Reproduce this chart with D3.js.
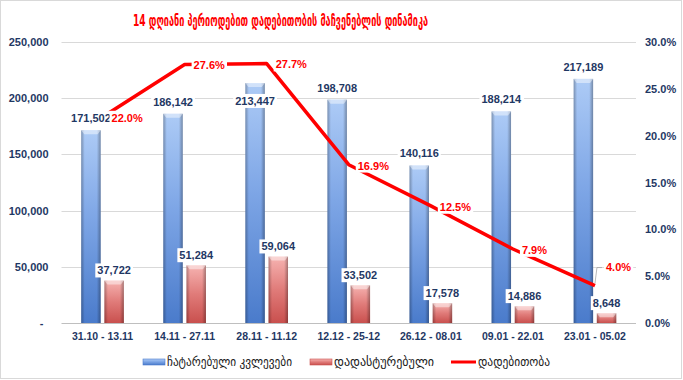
<!DOCTYPE html>
<html>
<head>
<meta charset="utf-8">
<script src="https://cdn.jsdelivr.net/npm/d3@7"></script>
<style>
  body { margin: 0; background: #fff; }
  text { font-family: "Liberation Sans", Arial, sans-serif; }
</style>
</head>
<body>
<svg id="chart" width="683" height="380"></svg>
<script>
// periods (14 days each)
const periods = ["31.10 - 13.11", "14.11 - 27.11", "28.11 - 11.12", "12.12 - 25-12",
                 "26.12 - 08.01", "09.01 - 22.01", "23.01 - 05.02"];
// tests done
const tests = [171502, 186142, 213447, 198708, 140116, 188214, 217189];
// confirmed cases
const confirmed = [37722, 51284, 59064, 33502, 17578, 14886, 8648];
// positivity, percent
const positivity = [22.0, 27.6, 27.7, 16.9, 12.5, 7.9, 4.0];

const leftTicks = [0, 50000, 100000, 150000, 200000, 250000];
const rightTicks = [0, 0.05, 0.10, 0.15, 0.20, 0.25, 0.30];

const title = "14 დღიანი პერიოდებით დადებითობის მაჩვენებლის დინამიკა";
const legendNames = ["ჩატარებული კვლევები", "დადასტურებული", "დადებითობა"];

const navy = "#1f3864";
const svg = d3.select("#chart");

// frame around the chart
svg.append("rect")
    .attr("x", 0.5).attr("y", 0.5).attr("width", 681).attr("height", 378)
    .attr("fill", "#fff").attr("stroke", "#d9d9d9");

// gradients for the bars
const defs = svg.append("defs");
function vGrad(id, stops) {
    let g = defs.append("linearGradient").attr("id", id)
        .attr("x1", 0).attr("y1", 0).attr("x2", 0).attr("y2", 1);
    stops.forEach(s => g.append("stop").attr("offset", s[0]).attr("stop-color", s[1]));
}
vGrad("gBlue", [[0, "#adcbf6"], [0.45, "#7ea6e6"], [1, "#4a7bcb"]]);
vGrad("gRed", [[0, "#f6b3b1"], [0.5, "#e07b79"], [1, "#c9504e"]]);
let edge = defs.append("linearGradient").attr("id", "gEdge")
    .attr("x1", 0).attr("y1", 0).attr("x2", 1).attr("y2", 0);
[[0, "#000", 0.28], [0.18, "#000", 0], [0.8, "#000", 0], [1, "#000", 0.32]]
    .forEach(s => edge.append("stop").attr("offset", s[0])
        .attr("stop-color", s[1]).attr("stop-opacity", s[2]));

// scales
const x = d3.scaleBand().domain(periods).range([61.5, 636]);
const xs = d3.scaleBand().domain(["t", "c"]).range([0, x.bandwidth()])
    .paddingInner(0.16).paddingOuter(0.85);
const y = d3.scaleLinear().domain([0, 250000]).range([323, 42]);
const y2 = d3.scaleLinear().domain([0, 0.30]).range([323, 42]);

// title
svg.append("text")
    .attr("x", 133).attr("y", 26)
    .attr("textLength", 295).attr("lengthAdjust", "spacingAndGlyphs")
    .attr("fill", "#ff0000").attr("font-size", 16).attr("font-weight", "bold")
    .style("font-family", "'DejaVu Sans', sans-serif")
    .text(title);

// gridlines
svg.append("g").selectAll("line")
    .data(leftTicks).enter().append("line")
    .attr("x1", 61.5).attr("x2", 636)
    .attr("y1", d => Math.round(y(d)) + 0.5).attr("y2", d => Math.round(y(d)) + 0.5)
    .attr("stroke", d => d === 0 ? "#bfbfbf" : "#d9d9d9");

// left axis
let axL = svg.append("g").attr("transform", "translate(61.5,0)")
    .call(d3.axisLeft(y).tickValues(leftTicks).tickSize(0).tickPadding(13)
        .tickFormat(d => d === 0 ? "-" : d3.format(",")(d)));
axL.select(".domain").remove();
axL.selectAll("text").attr("fill", navy).attr("font-size", 11).attr("font-weight", "bold")
    .attr("dx", d => d === 0 ? -5 : 0);

// right axis
let axR = svg.append("g").attr("transform", "translate(636,0)")
    .call(d3.axisRight(y2).tickValues(rightTicks).tickSize(0).tickPadding(9)
        .tickFormat(d3.format(".1%")));
axR.select(".domain").remove();
axR.selectAll("text").attr("fill", navy).attr("font-size", 11).attr("font-weight", "bold");

// category axis
let axB = svg.append("g").attr("transform", "translate(0,323)")
    .call(d3.axisBottom(x).tickSize(0).tickPadding(10));
axB.select(".domain").remove();
axB.selectAll("text").attr("fill", navy).attr("font-size", 10.5).attr("font-weight", "bold");

// bars
function drawBars(vals, key, grad) {
    let g = svg.append("g");
    let bx = (d, i) => x(periods[i]) + xs(key);
    g.selectAll("rect.body").data(vals).enter().append("rect")
        .attr("x", bx).attr("y", d => y(d))
        .attr("width", xs.bandwidth()).attr("height", d => y(0) - y(d))
        .attr("fill", `url(#${grad})`);
    g.selectAll("rect.edge").data(vals).enter().append("rect")
        .attr("x", bx).attr("y", d => y(d))
        .attr("width", xs.bandwidth()).attr("height", d => y(0) - y(d))
        .attr("fill", "url(#gEdge)");
    // bevel on top
    g.selectAll("path.cap").data(vals).enter().append("path")
        .attr("d", (d, i) => {
            let x0 = bx(d, i), w = xs.bandwidth(), t = y(d);
            return `M${x0},${t} L${x0 + w},${t} L${x0 + w - 3},${t + 4} L${x0 + 3},${t + 4} Z`;
        })
        .attr("fill", "#fff").attr("opacity", 0.45);
}
drawBars(tests, "t", "gBlue");
drawBars(confirmed, "c", "gRed");

// positivity line
const lineMaker = d3.line()
    .x((d, i) => x(periods[i]) + x.bandwidth() / 2)
    .y(d => y2(d / 100));
svg.append("path")
    .attr("d", lineMaker(positivity))
    .attr("fill", "none").attr("stroke", "#ff0000").attr("stroke-width", 3.5)
    .attr("stroke-linejoin", "round");

// label with white box
function boxLabel(px, py, txt, color, anchor) {
    let t = svg.append("text")
        .attr("x", px).attr("y", py).attr("dy", "0.35em")
        .attr("text-anchor", anchor)
        .attr("fill", color).attr("font-size", 11).attr("font-weight", "bold")
        .text(txt);
    let b = t.node().getBBox();
    svg.insert("rect", () => t.node())
        .attr("x", b.x - 2).attr("y", b.y - 1)
        .attr("width", b.width + 4).attr("height", b.height + 2)
        .attr("fill", "#fff");
}

// bar values
tests.forEach((v, i) => {
    let cx = x(periods[i]) + xs("t") + xs.bandwidth() / 2;
    // third label sits over the bar top in the original
    let cy = i === 2 ? y(v) + 18 : y(v) - 12;
    boxLabel(cx, cy, d3.format(",")(v), navy, "middle");
});
confirmed.forEach((v, i) => {
    let cx = x(periods[i]) + xs("c") + xs.bandwidth() / 2;
    boxLabel(cx, y(v) - 10, d3.format(",")(v), navy, "middle");
});

// positivity values
positivity.forEach((v, i) => {
    let px = x(periods[i]) + x.bandwidth() / 2, py = y2(v / 100);
    let txt = d3.format(".1f")(v) + "%";
    if (i === positivity.length - 1) {
        svg.append("polyline")
            .attr("points", `${px},${py - 2} ${px + 2},${py - 18} ${px + 7},${py - 18}`)
            .attr("fill", "none").attr("stroke", "#a6a6a6").attr("stroke-width", 0.8);
        boxLabel(px + 11, py - 18, txt, "#ff0000", "start");
    } else {
        boxLabel(px + 9, py + 1, txt, "#ff0000", "start");
    }
});

// legend
const lg = svg.append("g").attr("font-size", 12);
lg.append("rect").attr("x", 143).attr("y", 359).attr("width", 22).attr("height", 6)
    .attr("fill", "url(#gBlue)").attr("stroke", "#4a7bcb").attr("stroke-width", 0.6);
lg.append("rect").attr("x", 310).attr("y", 359).attr("width", 22).attr("height", 6)
    .attr("fill", "url(#gRed)").attr("stroke", "#c9504e").attr("stroke-width", 0.6);
lg.append("line").attr("x1", 451).attr("x2", 476).attr("y1", 362).attr("y2", 362)
    .attr("stroke", "#ff0000").attr("stroke-width", 3);
const legX = [167, 334, 478], legW = [125, 100, 72];
legendNames.forEach((n, i) => {
    lg.append("text")
        .attr("x", legX[i]).attr("y", 362).attr("dy", "0.35em")
        .attr("textLength", legW[i]).attr("lengthAdjust", "spacingAndGlyphs")
        .attr("fill", "#1a1a1a")
        .style("font-family", "'DejaVu Sans', sans-serif")
        .text(n);
});
</script>
</body>
</html>
